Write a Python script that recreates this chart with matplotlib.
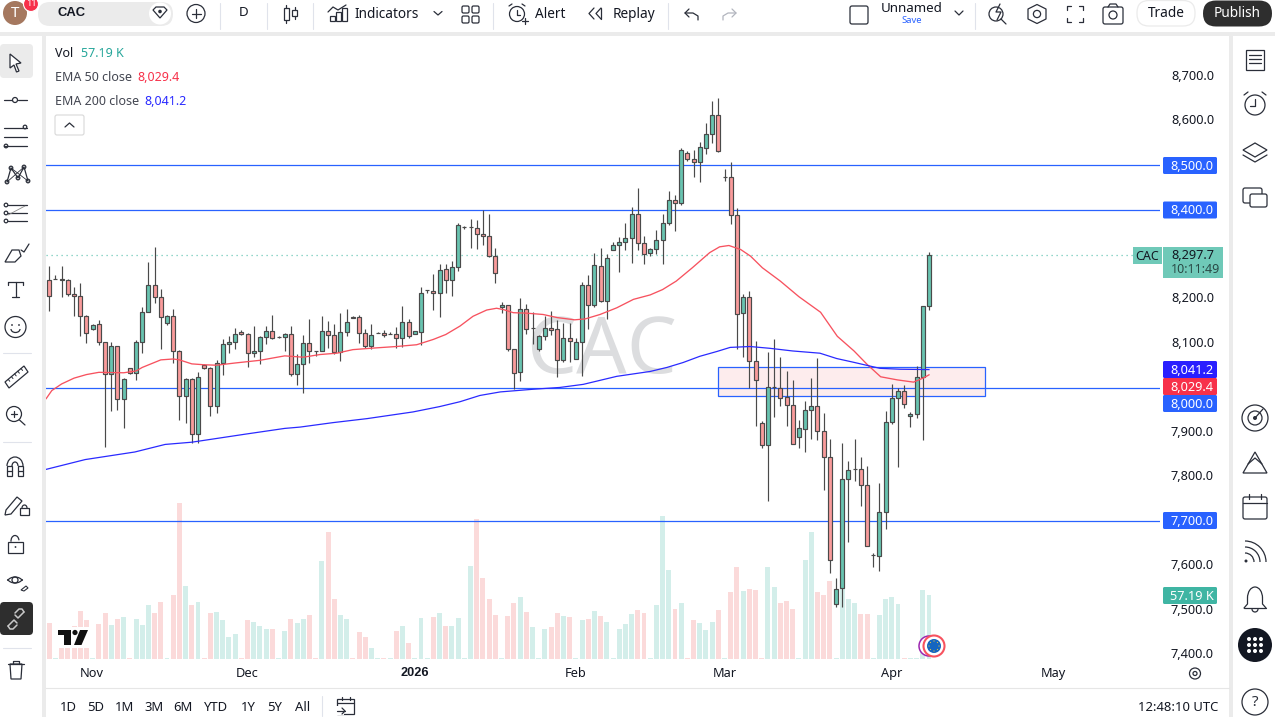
import matplotlib
matplotlib.use("Agg")
import matplotlib.pyplot as plt
from matplotlib.patches import Rectangle, Circle, FancyBboxPatch, Polygon, Arc
from matplotlib.lines import Line2D
from matplotlib.transforms import ScaledTranslation

plt.rcParams['font.family'] = ['Noto Sans', 'DejaVu Sans']

# ---------- data ----------
opens = [8243,8245,8245,8243,8212,8207,8162,8133,8144,8104,
 8032,8095,7976,8045,8034,8104,8171,8232,8205,8146,
 8162,8084,7982,8021,7897,8052,8045,7960,8057,8099,
 8104,8126,8122,8079,8084,8115,8128,8115,8115,8122,
 8032,8054,8101,8084,8084,8128,8120,8081,8126,8160,
 8160,8124,8095,8124,8124,8122,8122,8113,8149,8122,
 8126,8220,8218,8214,8268,8243,8272,8361,8362,8360,
 8346,8342,8297,8182,8187,8088,8036,8178,8135,8088,
 8117,8135,8133,8063,8113,8065,8104,8232,8187,8274,
 8196,8310,8322,8328,8337,8391,8326,8304,8313,8333,
 8371,8423,8416,8528,8515,8508,8540,8571,8614,8474,
 8474,8389,8169,8205,8061,7922,7872,8003,8000,7980,
 7962,7890,7908,7951,7960,7904,7845,7515,7551,7796,
 7818,7818,7782,7625,7623,7722,7924,7978,7994,7937,
 7942,8025,8185]
highs = [8275,8253,8273,8245,8227,8236,8164,8144,8153,8104,
 8104,8095,8023,8045,8108,8182,8284,8317,8223,8164,
 8178,8086,8023,8023,8036,8054,8048,8063,8110,8117,
 8135,8130,8124,8138,8117,8140,8164,8117,8124,8138,
 8077,8120,8155,8084,8162,8151,8144,8169,8178,8161,
 8164,8133,8144,8126,8131,8125,8137,8185,8155,8128,
 8227,8221,8257,8279,8279,8286,8371,8364,8380,8378,
 8400,8390,8315,8194,8187,8088,8203,8189,8171,8120,
 8162,8173,8153,8146,8146,8113,8238,8254,8304,8315,
 8301,8328,8340,8371,8407,8450,8342,8315,8355,8391,
 8443,8434,8540,8533,8535,8553,8596,8645,8652,8492,
 8508,8405,8212,8218,8106,7926,8081,8110,8070,8038,
 8018,7928,7971,8023,8068,7944,7886,7573,7877,7836,
 7886,7845,7825,7630,7787,7949,8009,8000,8007,7946,
 8050,8185,8306]
lows = [8173,8244,8204,8207,8161,8116,8101,8131,8097,7867,
 7948,7950,7910,8032,8018,8078,8171,8190,8087,8142,
 8057,7928,7921,7877,7877,8043,7937,7943,8029,8079,
 8087,8120,8047,8070,8054,8099,8110,8113,8083,8027,
 8006,7989,8056,8072,8084,8090,8076,8060,8116,8157,
 8101,8090,8088,8123,8114,8121,8090,8092,8113,8122,
 8096,8213,8176,8159,8213,8206,8263,8357,8314,8312,
 8321,8295,8236,8168,8084,7998,8016,8122,8099,8083,
 8107,8120,8025,8058,8058,8065,8027,8133,8182,8194,
 8155,8310,8261,8311,8280,8310,8279,8296,8301,8279,
 8367,8352,8412,8510,8474,8463,8526,8551,8531,8465,
 8369,8088,8069,8000,7914,7865,7746,7934,7959,7914,
 7875,7865,7856,7885,7883,7770,7584,7507,7507,7654,
 7791,7734,7645,7597,7588,7683,7919,7822,7955,7912,
 7932,7883,8175]
closes = [8207,8245,8243,8212,8207,8162,8124,8142,8104,8032,
 8095,7976,8021,8034,8104,8171,8232,8205,8160,8162,
 8084,7982,8021,7897,8025,8045,7960,8057,8099,8104,
 8122,8122,8079,8084,8115,8128,8113,8115,8122,8032,
 8054,8101,8084,8082,8128,8120,8081,8126,8149,8158,
 8124,8095,8120,8124,8120,8122,8113,8149,8117,8128,
 8214,8220,8214,8265,8243,8272,8367,8361,8362,8346,
 8342,8297,8259,8187,8088,8034,8178,8133,8135,8117,
 8135,8131,8063,8113,8106,8104,8232,8187,8277,8196,
 8292,8322,8328,8337,8391,8326,8301,8313,8333,8371,
 8423,8416,8535,8515,8508,8542,8571,8614,8533,8474,
 8389,8167,8205,8061,8018,7872,8003,8003,7978,7962,
 7875,7910,7951,7960,7904,7845,7614,7549,7796,7816,
 7818,7782,7645,7625,7722,7924,7978,7994,7964,7942,
 8025,8185,8297.7]
volumes = [32.2,0.9,18.5,20.0,29.5,42.9,34.9,0.9,31.3,41.1,
 30.4,35.8,37.5,0.9,35.8,30.4,48.3,41.1,50.9,0.9,
 57.2,139.4,65.2,48.3,50.9,0.9,41.1,42.0,34.9,19.7,
 22.3,0.9,34.9,33.1,29.5,26.8,26.8,0.9,25.0,35.8,
 32.2,35.8,39.3,0.9,87.6,113.5,53.6,39.3,35.8,0.9,
 24.1,19.7,9.8,0.9,0.9,0.9,25.0,29.5,14.3,0.9,
 36.6,0.9,37.5,41.1,29.5,29.5,36.6,0.9,83.1,125.1,
 72.4,53.6,39.3,0.9,38.4,50.0,55.4,42.0,28.6,0.9,
 26.8,28.6,41.1,38.4,37.5,0.9,34.9,35.8,42.9,38.4,
 33.1,0.9,26.8,31.3,40.2,43.8,41.1,0.9,48.3,127.8,
 79.5,44.7,50.0,0.9,34.9,32.2,25.9,33.1,43.8,0.9,
 59.9,82.2,60.8,62.6,61.7,0.9,82.2,64.3,50.0,51.8,
 44.7,0.9,88.5,113.5,59.9,57.2,69.7,0.9,63.5,53.6,
 50.0,40.2,40.2,0.9,39.3,53.6,55.4,49.1,0.9,0.9,
 0.9,61.7,57.19]
ema50_bar = [-0.5,0.4,2,4,6,8,12,14,15,18,20,21,23,25,27,30,34,38,41,43.7,46.4,49,52.8,56,59.3,
 62,64,66.3,68.4,70.6,72.2,73.3,74.9,77,79.7,82,84.8,86.5,88.9,91.6,94.3,97,99,101.2,103.8,106.6,
 108.2,109.7,111.6,113.2,115.1,118,121,124.5,127.2,129.9,132,134.2,136.9,139.5,141.2,142]
ema50_val = [7976,7994,8009,8022,8030,8035,8034,8038,8046,8063,8065,8063,8054,8052,8051,8056,8062,8072,8069,8075,8078,8086,8090,8093,8097,
 8109,8120,8139,8161,8175,8179,8176,8169,8168,8165,8158,8153,8155,8165,8180,8199,8209,8221,8240,8270,8304,
 8317,8320,8311,8296,8270,8240,8205,8170,8116,8083,8053,8025,8018,8013,8023,8029.4]
ema200_bar = [-0.5,5.8,13.8,18.7,23,31.6,38,40.5,45.8,51.3,58.7,63,66.3,69.5,72.8,78.1,82.4,86.2,91.6,97,99.7,102.3,105,107.8,109.9,
 113.1,116.3,120,124.4,127.1,129.7,132.5,134.1,137.3,142]
ema200_val = [7817,7839,7856,7873,7878,7896,7909,7912,7922,7931,7946,7958,7969,7983,7991,7997,8001,8008,8026,8037,8046,8057,8071,8082,8091,
 8093,8089,8083,8078,8066,8058,8049,8044,8042,8041.2]
hlines = [8500, 8400, 8000, 7700]
zone_bars = (107.9, 151.0)
zone_prices = (7982.5, 8047.5)
price_ticks = [8700,8600,8200,8100,7900,7800,7600,7500,7400]
month_bars = [6.9, 32, 59, 85, 109, 136, 162]
month_labels = ['Nov','Dec','2026','Feb','Mar','Apr','May']
last_price = 8297.7

GREEN, RED, EDGE = '#68c3b0', '#f99b9b', '#4a4a4a'
VGREEN, VRED = '#d3eeea', '#fbdada'
BLUE = '#2962ff'
TXT = '#131722'

W, H = 1275, 717
fig = plt.figure(figsize=(W/100, H/100), dpi=100, facecolor='#ebebeb')

# background panels
bg = fig.add_axes([0,0,1,1], zorder=0); bg.set_xlim(0,W); bg.set_ylim(H,0); bg.axis('off')
for (x,y,w,h) in [(0,0,W,32),(0,36,42,H-36),(46,36,1183,H-36),(1233,36,42,H-36)]:
    bg.add_patch(Rectangle((x,y),w,h,fc='white',ec='none'))
bg.add_line(Line2D([46,1229],[687.5,687.5],color='#e6e6e6',lw=0.8))

# chart axes
L,R,T,B = 46,1160,36,659
pos = [L/W,(H-B)/H,(R-L)/W,(B-T)/H]
vax = fig.add_axes(pos, zorder=1); vax.patch.set_alpha(0)
ax = fig.add_axes(pos, zorder=2); ax.patch.set_alpha(0)
xlim = (-0.533, 179.29)
ylim = (7390.85, 8790.75)
bars = list(range(len(opens)))
vax.set_xlim(xlim); vax.set_ylim(0, 556.7); vax.axis('off')
ax.set_xlim(xlim); ax.set_ylim(ylim)
for s in ax.spines.values(): s.set_visible(False)

vcols = [VGREEN if c>=o else VRED for o,c in zip(opens,closes)]
vax.bar(bars, volumes, width=0.8, color=vcols, linewidth=0)

ax.text(0.499,0.492,'CAC',transform=ax.transAxes,ha='center',va='center',fontsize=57,color='#dcdddf',zorder=0.5)

ax.add_patch(Rectangle((zone_bars[0],zone_prices[0]),zone_bars[1]-zone_bars[0],zone_prices[1]-zone_prices[0],
                       fc='#fdeced',ec=BLUE,lw=0.9,zorder=1))
for lv in hlines:
    ax.axhline(lv,color=BLUE,lw=0.9,zorder=1.2)
ax.plot([xlim[0],(1133-49.3)/6.195],[last_price]*2,color='#6fc9b8',lw=0.9,ls=(0,(1,3)),zorder=1.2)

ax.vlines(bars,lows,highs,color=EDGE,lw=0.85,zorder=2)
ccols = [GREEN if c>=o else RED for o,c in zip(opens,closes)]
ax.bar(bars,[abs(c-o) for o,c in zip(opens,closes)],bottom=[min(o,c) for o,c in zip(opens,closes)],
       width=0.645,color=ccols,edgecolor=EDGE,linewidth=0.85,zorder=3)
ax.plot(ema50_bar,ema50_val,color='#f7525f',lw=0.95,zorder=4)
ax.plot(ema200_bar,ema200_val,color='#2a2aff',lw=0.9,zorder=4)

ax.yaxis.tick_right()
ax.set_yticks(price_ticks)
ax.set_yticklabels([f'{p:,.1f}' for p in price_ticks],fontsize=9.2,color=TXT)
ax.set_xticks(month_bars)
ax.set_xticklabels(month_labels,fontsize=9.2,color=TXT)
ax.get_xticklabels()[2].set(fontweight='bold',family='Liberation Sans')
ax.tick_params(axis='both',length=0)
ax.tick_params(axis='x',pad=5.5)
ax.tick_params(axis='y',pad=7.9)
up = ScaledTranslation(0,1.7/100,fig.dpi_scale_trans)
for lab in ax.get_yticklabels():
    lab.set_transform(lab.get_transform()+up)

# ---------- overlay UI ----------
ui = fig.add_axes([0,0,1,1], zorder=10); ui.set_xlim(0,W); ui.set_ylim(H,0); ui.axis('off'); ui.patch.set_alpha(0)
IC = '#2a2e39'
def line(xs,ys,c=IC,lw=0.9): ui.add_line(Line2D(xs,ys,color=c,lw=lw,solid_capstyle='round'))
def rect(x,y,w,h,fc='none',ec=IC,lw=0.9):
    ui.add_patch(Rectangle((x,y),w,h,fc=fc,ec=ec,lw=lw))
def rrect(x,y,w,h,r=3,fc='none',ec=IC,lw=0.9):
    ui.add_patch(FancyBboxPatch((x+r,y+r),w-2*r,h-2*r,boxstyle=f'round,pad={r},rounding_size={r}',fc=fc,ec=ec,lw=lw))
def circ(x,y,r,fc='none',ec=IC,lw=0.9): ui.add_patch(Circle((x,y),r,fc=fc,ec=ec,lw=lw))
def txt(x,y,s,ha='center',va='center',fs=9.4,c=TXT,**k): return ui.text(x,y+1,s,ha=ha,va=va,fontsize=fs,color=c,**k)

# legend
txt(55,52.5,'Vol',ha='left',fs=9)
txt(81,52.5,'57.19 K',ha='left',fs=9,c='#26a69a')
txt(55,76.5,'EMA 50 close',ha='left',fs=9,c='#434651')
txt(137,76.5,'8,029.4',ha='left',fs=9,c='#f7314a')
txt(55,100.5,'EMA 200 close',ha='left',fs=9,c='#434651')
txt(144,100.5,'8,041.2',ha='left',fs=9,c='#2a2aff')
rrect(55,115,29,20,r=2,ec='#d8d8d8',fc='white',lw=0.8)
line([65,69.5,74],[127,123,127],lw=0.9)

# price badges
def badge(y0,y1,col,s,fc='white',x1=1217):
    ui.add_patch(FancyBboxPatch((1163.5,y0+.5),x1-1164,y1-y0-1,boxstyle='round,pad=0.5,rounding_size=1.5',fc=col,ec='none'))
    txt(1192,(y0+y1)/2,s,fs=9.2,c=fc)
badge(157,174,BLUE,'8,500.0')
badge(201.5,218.5,BLUE,'8,400.0')
badge(361,378,'#2a1fff','8,041.2')
badge(378,395,'#f7314a','8,029.4')
badge(395,412,BLUE,'8,000.0')
badge(512,529,BLUE,'7,700.0')
badge(587,604,'#3fb5a3','57.19 K')
ui.add_patch(Rectangle((1132.5,247),29.5,17,fc='#6fc9b8',ec='none'))
txt(1147,255.5,'CAC',fs=9)
ui.add_patch(Rectangle((1163,247),60,31,fc='#6fc9b8',ec='none'))
txt(1171,254.5,'8,297.7',ha='left',fs=9.2)
txt(1171,268.5,'10:11:49',ha='left',fs=9,c='#2a4a46')

# TV logo and event marker
ui.add_patch(Rectangle((55,627),35,21,fc='white',ec='none'))
ui.add_patch(Polygon([(58,630),(71,630),(71,645),(64,645),(64,635),(58,635)],fc='#111111',ec='none'))
circ(75,632.5,2.6,fc='#111111',ec='none')
ui.add_patch(Polygon([(80,630),(88,630),(81.5,645),(74,645)],fc='#111111',ec='none'))
circ(929,646,10,fc='white',ec='#9c27b0',lw=1.1)
circ(934,646,10.5,fc='white',ec='#f7525f',lw=1.5)
circ(934,646,7,fc='#1565c0',ec='none')
for dx,dy in [(0,-5),(0,5),(-5,0),(5,0),(-3.5,-3.5),(3.5,-3.5),(-3.5,3.5),(3.5,3.5)]:
    circ(934+dx,646+dy,0.6,fc='#e0c040',ec='none')

# top bar
circ(15,13,12,fc='#a5785f',ec='none')
txt(15,12.5,'T',c='white',fs=11)
circ(31,4,7.5,fc='#f7314a',ec='white',lw=0.8)
txt(31,2.5,'11',c='white',fs=6.5)
rrect(38,2,135,24,r=12,fc='#ebebeb',ec='none')
txt(58,12,'CAC',ha='left',fs=9.4,fontweight='bold',family='Liberation Sans')
circ(160,13.5,11,fc='white',ec='none')
ui.add_patch(Polygon([(153,10),(156,7),(164,7),(167,10),(160,18)],fc='none',ec=IC,lw=0.9))
circ(160,11.5,1.8,fc=IC,ec='none')
circ(196,13.5,9)
line([196,196],[9,18]); line([191.5,200.5],[13.5,13.5])
for x in [220,266.5,313,493,668,975]:
    line([x,x],[3,29],c='#e0e3eb',lw=0.8)
txt(244,12,'D',fs=9.6)
for x,y0,y1,t0,t1 in [(286,5,23,8,20),(294.5,7,19,10,16)]:
    rect(x-2.5,t0,5,t1-t0); line([x,x],[y0,t0]); line([x,x],[t1,y1])
for x,y0 in [(330,16),(336,12),(342,8)]: rect(x,y0,4.5,21-y0)
line([328,333,338,346],[12,7,10,5])
txt(355,13,'Indicators',ha='left',fs=9.8)
line([434,438,442],[11.5,15,11.5])
for (x,y) in [(462,6),(472,6),(462,16),(472,16)]: rrect(x,y,7,7,r=1.5)
circ(517,14,7.5); line([517,517,520],[9.5,14.5,14.5]); line([509,512],[6,4]); line([522,525],[4,6]); line([522,528],[21,21]); line([525,525],[18,24])
txt(535,13,'Alert',ha='left',fs=9.8)
line([594,589,594],[8,13.5,19]); line([601,596,601],[8,13.5,19]); line([601,601],[8,19])
txt(613,13,'Replay',ha='left',fs=9.8)
line([689,685,689],[9,13,17]); line([685,693,698,698],[13,13,16,20])
line([732,736,732],[9,13,17],c='#b2b5be'); line([736,728,723,723],[13,13,16,20],c='#b2b5be')
rrect(850,6,18,18,r=2)
txt(912,8,'Unnamed',fs=9.6)
txt(912,19.5,'Save',fs=6.8,c=BLUE)
line([955,959,963],[11,15,11])
circ(996,14,7); line([1001,1006],[19,24]); line([1000,996,1001,997],[4,12,12,20],lw=0.9)
ui.add_patch(Polygon([(1037,4.5),(1046,9),(1046,19),(1037,23.5),(1028,19),(1028,9)],fc='none',ec=IC,lw=0.9,joinstyle='round'))
circ(1037,14,3.6)
for a,b in [([1067,1067,1071],[10,6,6]),([1079,1083,1083],[6,6,10]),([1083,1083,1079],[18,22,22]),([1071,1067,1067],[22,22,18])]: line(a,b)
rrect(1103,7,20,17,r=2); circ(1113,15,4); line([1108,1110,1116,1118],[7,4,4,7])
rrect(1137,0.5,58,25.5,r=12,fc='white',ec='#ebebeb')
txt(1166,12.5,'Trade',fs=9.8)
rrect(1203,0.5,69,26,r=13,fc='#2e2e2e',ec='none')
txt(1237.5,12.5,'Publish',fs=9.8,c='white')

# left bar
rrect(0,44,33,34,r=4,fc='#ebebeb',ec='none')
ui.add_patch(Polygon([(10,54),(21,63),(16,64),(19,71),(16.5,72),(14,65),(10,68)],fc='white',ec=IC,lw=0.9))
line([4,12],[100,100]); line([18,27],[100,100]); circ(15,100,2.5)
for y in [128,137,146]: line([4,27],[y,y])
circ(25,127,1.8,fc='white'); circ(6,146,1.8,fc='white')
pts=[(7,182),(11,168),(18,178),(24,167),(28,181)]
line([p[0] for p in pts],[p[1] for p in pts]); line([7,24],[182,167],lw=0.6); line([11,28],[168,181],lw=0.6)
for p in pts: circ(p[0],p[1],1.8,fc='white')
for y in [205,213,221]: line([8,27],[y,y])
for y in [205,213,221]: circ(6,y,1.8,fc='white')
line([8,25],[215,206],c='#888888',lw=0.6)
ui.add_patch(Polygon([(5,262),(12,250),(19,250),(21,256),(15,262)],fc='none',ec=IC,lw=0.9))
line([21,24,29],[250,252,244])
line([15.5,15.5],[282,297]); line([8,23],[282,282]); line([8,8],[282,285]); line([23,23],[282,285]); line([12,19],[297,297])
circ(15.5,327,10.5); circ(12,325,0.9,fc=IC,ec='none'); circ(19,325,0.9,fc=IC,ec='none')
ui.add_patch(Arc((15.5,329),9,7,theta1=0,theta2=180,ec=IC,lw=0.9))
for y in [353,442,648]: line([3,31],[y,y],c='#e0e3eb',lw=0.8)
ui.add_patch(Polygon([(5,382),(24,366),(28,372),(9,388)],fc='none',ec=IC,lw=0.9))
for t in range(1,6): line([5+3.2*t,5+3.2*t+1.6],[382-2.7*t,382-2.7*t+2],lw=0.7)
circ(14,414,7.5); line([19.5,25],[420,425]); line([11,17],[414,414]); line([14,14],[411,417])
ui.add_patch(Arc((15,466),16,18,theta1=180,theta2=360,ec=IC,lw=0.9)); ui.add_patch(Arc((15,466),6,8,theta1=180,theta2=360,ec=IC,lw=0.9))
rect(7,466,5,10); rect(18,466,5,10); line([7,12],[471,471]); line([18,23],[471,471])
ui.add_patch(Polygon([(6,510),(17,497),(22,501),(11,514),(5,515)],fc='none',ec=IC,lw=0.9))
rect(20,508,9,7); ui.add_patch(Arc((24.5,508),5,6,theta1=180,theta2=360,ec=IC,lw=0.9))
rect(8,542,15,11); ui.add_patch(Arc((15,541),8,11,theta1=170,theta2=350,ec=IC,lw=0.9)); circ(15.5,547,0.9,fc=IC,ec='none')
ui.add_patch(Arc((15,587),20,20,theta1=220,theta2=320,ec=IC,lw=0.9)); ui.add_patch(Arc((15,573),20,20,theta1=40,theta2=140,ec=IC,lw=0.9)); circ(15,580,3)
ui.add_patch(Polygon([(21,590),(26,586),(28,588),(24,591)],fc='none',ec=IC,lw=0.8))
rrect(0,602,33,33,r=4,fc='#2e2e2e',ec='none')
line([8,14,17],[626,620,623],c='#c8c8c8',lw=1.1); line([24,18,15],[612,618,615],c='#c8c8c8',lw=1.1); line([8,10,13,17],[626,629,629,625],c='#c8c8c8',lw=1.1); line([24,22,19,15],[612,609,609,613],c='#c8c8c8',lw=1.1)
line([8,24],[664,664]); line([13,13,19,19],[664,661,661,664])
ui.add_patch(Polygon([(10,664),(11,679),(21,679),(22,664)],fc='none',ec=IC,lw=0.9))

# bottom bar
for x,s in zip([68,96,125,154,183,216,248,275,303],['1D','5D','1M','3M','6M','YTD','1Y','5Y','All']):
    txt(x,706.5,s,fs=9.4)
line([322,322],[696,716],c='#e0e3eb',lw=0.8)
rect(337,699,17,15); line([337,354],[703,703]); line([342,342],[697,700]); line([350,350],[697,700])
ui.add_patch(Rectangle((335,706),9,9,fc='white',ec='none')); line([337,345],[711,711]); line([342,345,342],[708,711,714])
txt(1218,706.5,'12:48:10 UTC',ha='right',fs=9.4)
circ(1195,673.5,5.5); circ(1195,673.5,2)

# right bar
rect(1246,50,18,20)
for y in [55,59,63]: line([1249,1261],[y,y])
circ(1255,105,10); line([1255,1255,1250],[99,106,106]); line([1244,1248],[95,92]); line([1262,1266],[92,95])
ui.add_patch(Polygon([(1255,143),(1267,150),(1255,157),(1243,150)],fc='none',ec=IC,lw=0.9)); line([1243,1255,1267],[155,162,155])
rrect(1243,188,19,15,r=2); rrect(1250,194,17,13,r=2,fc='white')
circ(1255,418,13); circ(1255,418,7); circ(1255,418,2,fc=IC,ec='none'); line([1255,1263],[418,409])
ui.add_patch(Polygon([(1243,473),(1255,452),(1267,473)],fc='none',ec=IC,lw=0.9)); line([1248,1255,1262],[464,458,464])
rrect(1243,497,24,22,r=2); line([1243,1267],[503,503]); line([1249,1249],[494,499]); line([1261,1261],[494,499])
for d in (18,30,42):
    ui.add_patch(Arc((1245,562),d,d,theta1=270,theta2=360,ec=IC,lw=0.9))
circ(1246,561,1.5,fc=IC,ec='none')
ui.add_patch(Arc((1255,598),15,22,theta1=180,theta2=360,ec=IC,lw=0.9)); line([1244,1247.5,1247.5],[608,604,598]); line([1266,1262.5,1262.5],[608,604,598]); line([1244,1266],[608,608])
ui.add_patch(Arc((1255,609),6,6,theta1=0,theta2=180,ec=IC,lw=0.9))
circ(1255,645,17,fc='#131722',ec='none')
for dx in (-6,0,6):
    for dy in (-6,0,6):
        circ(1255+dx,645+dy,2,fc='white',ec='none')
circ(1255,702,13); txt(1255,701,'?',fs=11,c=IC)

fig.savefig('out.png',dpi=100,facecolor=fig.get_facecolor())
